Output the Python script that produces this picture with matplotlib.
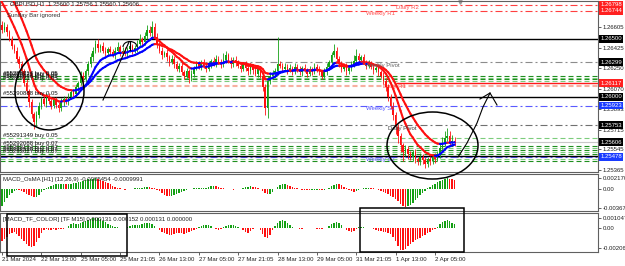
import numpy as np
import pandas as pd
import matplotlib
matplotlib.use("Agg")
import matplotlib.pyplot as plt
from matplotlib.collections import LineCollection
from matplotlib.patches import Ellipse, Rectangle, Arc
from matplotlib.lines import Line2D

plt.rcParams['font.family'] = ['Liberation Sans', 'DejaVu Sans']

W, H = 625, 266
FS = 4.3

# ---------------- data (prices in pips above 1.25000) ----------------
prior_close = [205, 215, 245, 265, 275, 282, 288, 295, 300, 298, 292, 286, 280, 272, 264,
               256, 248, 240, 232, 224, 216, 208, 200, 194, 188, 182, 176, 170, 166, 162]

close = [158, 160, 156, 150, 144, 140, 133, 128, 122, 112,
         105, 95, 85, 78, 84, 92, 98, 94, 100, 96,
         92, 97, 93, 90, 95, 98, 96, 100, 104, 102,
         108, 112, 118, 115, 122, 128, 134, 140, 146, 142,
         144, 140, 138, 141, 139, 136, 140, 143, 138, 140,
         137, 141, 144, 140, 142, 146, 150, 147, 153, 158,
         155, 160, 152, 145, 140, 136, 138, 134, 130, 133,
         128, 124, 127, 121, 118, 122, 116, 120, 125, 128,
         126, 130, 127, 124, 128, 131, 129, 133, 130, 128,
         132, 136, 131, 128, 132, 130, 127, 124, 128, 125,
         122, 126, 123, 120, 124, 118, 108, 90, 114, 118,
         120, 122, 128, 127, 124, 126, 123, 125, 122, 126,
         124, 121, 125, 123, 120, 124, 122, 126, 124, 121,
         118, 122, 126, 130, 136, 140, 133, 128, 124, 126,
         122, 125, 128, 131, 135, 132, 134, 130, 127, 129,
         126, 123, 125, 121, 118, 114, 108, 100, 92, 84,
         74, 66, 58, 52, 55, 50, 48, 52, 46, 44,
         48, 45, 42, 46, 44, 48, 46, 50, 56, 60,
         64, 66, 60, 62, 60.6]

wick_up = [4, 5, 3, 2, 3, 2, 3, 2, 3, 2,
           3, 2, 3, 2, 4, 3, 2, 4, 3, 3,
           2, 3, 3, 2, 4, 3, 2, 3, 2, 3,
           3, 2, 4, 3, 2, 3, 4, 3, 3, 4,
           2, 3, 3, 2, 3, 2, 3, 4, 2, 3,
           3, 2, 4, 2, 3, 3, 4, 2, 3, 4,
           3, 6, 4, 3, 2, 3, 2, 3, 2, 3,
           2, 3, 2, 3, 2, 3, 2, 3, 2, 3,
           3, 2, 3, 2, 3, 2, 3, 3, 2, 3,
           6, 4, 2, 3, 2, 3, 2, 3, 2, 3,
           2, 3, 2, 3, 2, 3, 2, 3, 4, 3,
           3, 3, 24, 3, 2, 3, 2, 3, 2, 3,
           2, 3, 2, 3, 2, 3, 2, 3, 2, 3,
           2, 3, 3, 2, 3, 6, 3, 2, 3, 2,
           3, 2, 3, 5, 6, 3, 2, 3, 2, 3,
           2, 3, 2, 3, 2, 3, 2, 3, 2, 3,
           3, 2, 3, 2, 3, 2, 3, 2, 3, 2,
           3, 2, 3, 2, 3, 2, 3, 3, 4, 5,
           6, 7, 4, 5, 3]

wick_dn = [3, 2, 3, 2, 3, 2, 3, 3, 2, 3,
           3, 4, 3, 6, 3, 2, 3, 2, 3, 2,
           3, 2, 3, 3, 2, 3, 2, 3, 2, 3,
           2, 3, 2, 3, 2, 3, 2, 3, 2, 3,
           3, 2, 3, 2, 3, 2, 3, 2, 3, 2,
           2, 3, 2, 3, 2, 3, 2, 3, 2, 3,
           2, 3, 2, 3, 2, 3, 2, 3, 3, 2,
           3, 2, 3, 2, 3, 2, 4, 2, 3, 2,
           2, 3, 2, 3, 2, 3, 2, 3, 2, 3,
           2, 3, 2, 3, 2, 3, 2, 3, 2, 3,
           3, 2, 3, 2, 3, 2, 3, 6, 8, 3,
           2, 3, 3, 2, 3, 2, 3, 2, 3, 2,
           3, 2, 3, 2, 3, 2, 3, 2, 3, 2,
           3, 2, 3, 2, 3, 2, 3, 2, 3, 2,
           3, 2, 3, 2, 3, 2, 3, 2, 3, 2,
           2, 3, 2, 3, 2, 3, 3, 4, 3, 4,
           6, 6, 6, 8, 3, 4, 3, 4, 3, 3,
           3, 3, 4, 3, 3, 2, 3, 2, 3, 2,
           3, 2, 3, 2, 3]

# MACD_OsMA H1 histogram, units of 1e-5
osma = [-330, -250, -170, -110, -70, -40, -15, -20, -40, -65,
        -90, -115, -140, -160, -150, -110, -60, -20, 20, 45,
        65, 80, 90, 95, 100, 100, 98, 100, 105, 110,
        118, 130, 145, 160, 175, 190, 200, 205, 210, 200,
        185, 165, 140, 115, 90, 65, 40, 20, 10, -5,
        -10, -8, 0, 5, 10, 15, 20, 25, 30, 35,
        30, 25, 15, -10, -40, -75, -110, -135, -140, -130,
        -110, -90, -70, -50, -30, -15, -5, 5, 10, 12,
        15, 15, 18, 20, 40, 60, 65, 50, 35, 20,
        10, 5, 0, -5, -10, -8, -5, 0, 15, 30,
        45, 50, 45, 35, 20, 0, -40, -80, -105, -90,
        -50, 0, 40, 70, 90, 92, 80, 60, 40, 20,
        10, 0, -10, -15, -20, -22, -20, -15, -12, -15,
        -18, -10, 0, 20, 50, 80, 95, 90, 70, 45,
        10, -20, -45, -50, -40, -20, -5, 10, 15, 18,
        15, 10, 0, -15, -30, -50, -75, -100, -130, -160,
        -195, -240, -290, -330, -350, -345, -310, -270, -220, -170,
        -120, -70, -30, 10, 40, 70, 100, 130, 160, 185,
        205, 215, 205, 190, 175]

# MACD_TF_COLOR M15 histogram, units of 1e-5
macd_tf = [-140, -120, -90, -60, -50, -45, -60, -80, -110, -140,
           -165, -185, -195, -190, -150, -100, -50, -25, -15, -20,
           -18, -15, -20, -15, -10, -8, -5, 20, 40, 50,
           45, 40, 50, 60, 75, 85, 95, 105, 108, 100,
           90, 75, 60, 45, 30, 20, 15, 10, 5, 0,
           -3, 10, 20, 28, 30, 28, 30, 40, 50, 55,
           50, 40, 20, 0, -20, -40, -55, -65, -70, -68,
           -60, -55, -50, -55, -60, -50, -40, -30, -20, -10,
           10, 20, 30, 35, 30, 20, 5, -15, -20, -10,
           10, 20, 28, 30, 32, 25, 15, 5, -25, -45,
           -50, -35, -10, 0, -5, -20, -60, -90, -100, -70,
           -20, 20, 55, 75, 80, 70, 50, 30, 15, 5,
           -5, -10, -8, -5, 0, 5, 3, -3, -8, -10,
           -8, -5, 0, 20, 40, 55, 60, 50, 30, 5,
           -20, -35, -40, -30, -15, 10, 15, 10, 5, 0,
           -5, -10, -20, -30, -35, -40, -45, -50, -60, -90,
           -140, -190, -225, -235, -215, -190, -170, -150, -130, -115,
           -100, -85, -70, -55, -40, -25, -10, 15, 40, 60,
           75, 80, 70, 55, 40]

assert len(close) == len(wick_up) == len(wick_dn) == len(osma) == len(macd_tf) == 185

tick_idx = list(range(0, 177, 16))
tick_lbl = ['21 Mar 2024', '22 Mar 13:00', '25 Mar 05:00', '25 Mar 21:05', '26 Mar 13:00',
            '27 Mar 05:00', '27 Mar 21:05', '28 Mar 13:00', '29 Mar 05:00', '31 Mar 21:05',
            '1 Apr 13:00', '2 Apr 05:00']

price_ticks = [1.26605, 1.26425, 1.26250, 1.26070, 1.25893, 1.25715, 1.25545, 1.25365]

pivot_price = [1.26798, 1.26744, 1.26299, 1.25923, 1.25753, 1.25478]
pivot_name = ['Daily R2', 'Weekly R1', 'Weekly Pivot', 'Weekly S1', 'Daily Pivot', 'Weekly S2']
pivot_col = ['#ff4040', '#ff4040', '#8c8c8c', '#5a5aff', '#707070', '#5a5aff']
pivot_text_col = ['#ff5050', '#ff5050', '#606060', '#5050ff', '#404040', '#5050ff']
pivot_text_bar = [160, 148, 147.5, 148, 157, 148]

daily_r1 = 1.26117
black_lines = [1.26500, 1.26000, 1.25485]
bid = 1.25606

order_lines = [1.26180, 1.26165, 1.26150, 1.26135, 1.25643,
               1.25574, 1.25556, 1.25539, 1.25522, 1.25504, 1.25461, 1.25444]
order_light = [False, True, False, True, True, False, True, False, True, False, True, False]
salmon_lines = [1.26105, 1.26092]
order_labels = [(1.26180, '#55288714 buy 0.05'), (1.26165, '#55288921 buy 0.05'),
                (1.26150, '#55289036 buy 0.05'), (1.26135, '#55289217 buy 0.05'),
                (1.26000, '#55290888 buy 0.05'), (1.25643, '#55291349 buy 0.05'),
                (1.25574, '#55292088 buy 0.07'), (1.25539, '#55292134 buy 0.07'),
                (1.25522, '#55292516 buy 0.07'), (1.25504, '#55293027 buy 0.07')]

tag_price = [1.26798, 1.26744, 1.26500, 1.26299, 1.26117, 1.26000, 1.25923, 1.25753, 1.25606, 1.25478]
tag_col = ['#ff2020', '#ff2020', 'black', 'black', '#ff2020', 'black', '#1a3cff', 'black', 'black', '#1a3cff']

GREEN = '#14a014'
RED = '#ff1010'
BLUE = '#0000ff'

# ---------------- layout ----------------
fig = plt.figure(figsize=(W / 100, H / 100), dpi=100)
fig.patch.set_facecolor('white')


def fx(x):
    return x / W


def fy(y):
    return 1 - y / H


ax = fig.add_axes([0, fy(172), fx(598), fy(1) - fy(172)])
ax1 = fig.add_axes([0, fy(211), fx(598), fy(174) - fy(211)])
ax2 = fig.add_axes([0, fy(252), fx(598), fy(213) - fy(252)])

BAR = 2.46
xlim = (-2 / BAR, 596 / BAR)
for a in (ax, ax1, ax2):
    a.set_xlim(*xlim)
    a.yaxis.tick_right()
    a.tick_params(axis='y', length=2, width=0.5, pad=1.5, labelsize=FS, colors='#202020')
    for s in a.spines.values():
        s.set_color('#606060')
        s.set_linewidth(0.8)
    a.set_facecolor('white')
ax.set_xticks([])
ax1.set_xticks([])

ax.set_ylim(1.25348, 1.26829)
ax1.set_ylim(-0.00434, 0.00296)
ax2.set_ylim(-0.00251, 0.00157)

# ---------------- main chart ----------------
idx = np.arange(len(close))
c = 1.25 + np.array(close) / 1e4
o = np.r_[1.25 + prior_close[-1] / 1e4, c[:-1]]
hi = np.maximum(o, c) + np.array(wick_up) / 1e4
lo = np.minimum(o, c) - np.array(wick_dn) / 1e4
cc = np.where(c >= o, GREEN, RED)

dd = (0, (6.3, 2.7, 1.8, 2.7))
for p, col in zip(pivot_price, pivot_col):
    ax.axhline(p, color=col, lw=0.8, ls=dd, zorder=1)
for p, light in zip(order_lines, order_light):
    ax.axhline(p, color='#7ccc7c' if light else '#1f8f1f', lw=0.8, ls=(0, (4.5, 2.7)), zorder=1)
for p in salmon_lines:
    ax.axhline(p, color='#f7b0a0', lw=0.8, ls=(0, (4.5, 2.7)), zorder=1)
for p in black_lines:
    ax.axhline(p, color='black', lw=1.0, zorder=2)
ax.axhline(bid, color='#c8c8c8', lw=0.8, zorder=2)
ax.hlines(daily_r1, 160, xlim[1], color='#ff1a1a', lw=1.0, zorder=2)

ax.vlines(idx, lo, hi, colors=cc, lw=0.6, zorder=3)
ax.bar(idx, np.maximum(np.abs(c - o), 0.00002), bottom=np.minimum(o, c), width=0.62,
       color=cc, lw=0, zorder=3)

full = pd.Series(1.25 + np.r_[prior_close, close] / 1e4)
for span in (10, 20):
    ema = full.ewm(span=span, adjust=False).mean().values[len(prior_close) - 1:]
    xs = np.arange(-1, len(close))
    pts = np.column_stack([xs, ema])
    segs = np.stack([pts[:-1], pts[1:]], axis=1)
    cols = np.where(np.diff(ema) >= 0, BLUE, RED)
    ax.add_collection(LineCollection(segs, colors=cols, lw=1.5, zorder=4, capstyle='round'))

# pivot names
for p, name, tc, b in zip(pivot_price, pivot_name, pivot_text_col, pivot_text_bar):
    ax.text(b, p - 0.00004, name, color=tc, fontsize=FS, va='top', ha='left', zorder=5)
ax.text(155, daily_r1 - 0.00004, 'Daily R1', color='#ff5050', fontsize=FS, va='top', zorder=2)

for p, t in order_labels:
    ax.text(0.6, p + 0.00002, t, color='#101010', fontsize=FS, va='bottom', ha='left', zorder=5)

# price axis
ax.set_yticks(price_ticks)
ax.set_yticklabels([f'{v:.5f}' for v in price_ticks])
for p, col in zip(tag_price, tag_col):
    ax.text(1.004, p, f'{p:.5f}', transform=ax.get_yaxis_transform(), ha='left', va='center',
            fontsize=FS, color='white', clip_on=False, zorder=6,
            bbox=dict(boxstyle='square,pad=0.22', fc=col, ec='none'))
ax.plot(186.2, 1.26818, marker='v', ms=2.5, color='#9a9a9a', clip_on=False)

# ---------------- oscillators ----------------
osv = np.array(osma) / 1e5
oc = np.where(np.diff(np.r_[osv[0] - 1, osv]) >= 0, GREEN, RED)
ax1.bar(idx, osv, width=0.6, color=oc, lw=0)
ax1.set_yticks([0.00217, 0.0, -0.003679])
ax1.set_yticklabels(['0.002170', '0.00', '-0.003679'])

tfv = np.array(macd_tf) / 1e5
ax2.bar(idx, tfv, width=0.6, color=np.where(tfv >= 0, GREEN, RED), lw=0)
ax2.set_yticks([0.001047, 0.0, -0.002069])
ax2.set_yticklabels(['0.001047', '0.00', '-0.002069'])

ax2.set_xticks(tick_idx)
ax2.set_xticklabels(tick_lbl)
ax2.tick_params(axis='x', length=2, width=0.5, pad=1.5, labelsize=FS, colors='#202020')
for lbl in ax2.get_xticklabels():
    lbl.set_ha('left')

# ---------------- texts ----------------
fig.text(fx(10), fy(4), 'GBPUSD,H1  1.25600 1.25756 1.25560 1.25606', fontsize=FS,
         va='center', color='#202020')
fig.text(fx(7), fy(15), 'Sunday Bar ignored', fontsize=FS, va='center', color='#303030')
fig.text(fx(3), fy(180), 'MACD_OsMA [H1] (12,26,9) -0.0005454 -0.0009991', fontsize=FS,
         va='center', color='#202020')
fig.text(fx(3), fy(219), '[MACD_TF_COLOR] [TF M15] 0.000131 0.000152 0.000131 0.000000',
         fontsize=FS, va='center', color='#202020')

# ---------------- hand-drawn objects ----------------
T = fig.transFigure
fig.add_artist(Ellipse((fx(49.5), fy(91)), 69 / W, 78 / H, transform=T, fill=False,
                       ec='black', lw=1.1, zorder=10))
fig.add_artist(Ellipse((fx(432.5), fy(145.5)), 91 / W, 67 / H, transform=T, fill=False,
                       ec='black', lw=1.1, zorder=10))
fig.add_artist(Line2D([fx(103), fx(129)], [fy(100), fy(42)], transform=T, color='black', lw=0.8))
fig.add_artist(Arc((fx(130), fy(47)), 14 / W, 11 / H, theta1=0, theta2=180, transform=T,
                   color='black', lw=0.8))
fig.add_artist(Line2D([fx(130), fx(130)], [fy(41.5), fy(50)], transform=T, color='black', lw=0.8))
arrow_x = [458, 467, 477, 483, 490]
arrow_y = [157, 143, 123, 107, 93]
fig.add_artist(Line2D([fx(v) for v in arrow_x], [fy(v) for v in arrow_y], transform=T,
                      color='black', lw=0.8))
fig.add_artist(Line2D([fx(480), fx(490), fx(497)], [fy(99), fy(93), fy(105)], transform=T,
                      color='black', lw=0.8))
fig.add_artist(Rectangle((fx(7), fy(256)), 120 / W, 42 / H, transform=T, fill=False,
                         ec='black', lw=1.1))
fig.add_artist(Rectangle((fx(360), fy(252)), 104 / W, 44 / H, transform=T, fill=False,
                         ec='black', lw=1.1))

fig.savefig('out.png', dpi=100)
